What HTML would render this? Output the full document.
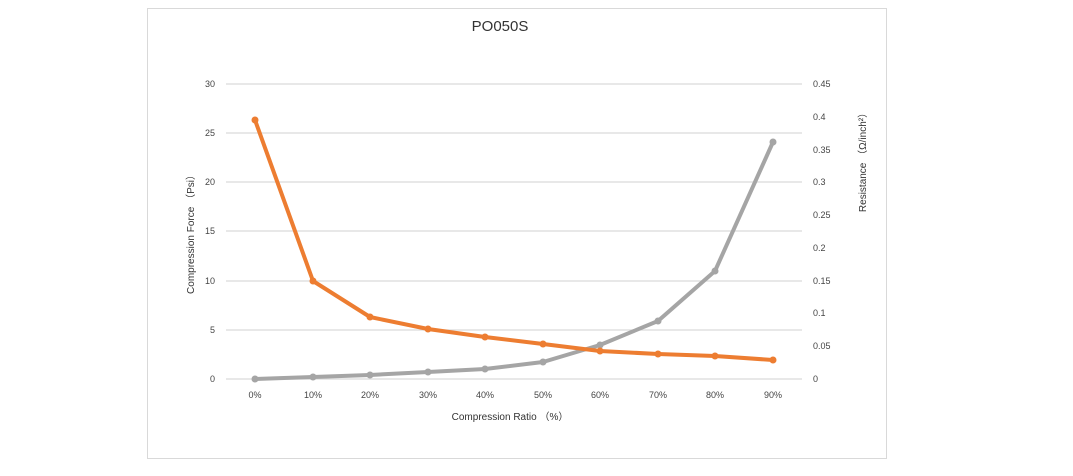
<!DOCTYPE html>
<html><head><meta charset="utf-8"><style>
body{margin:0;background:#fff;}
svg{display:block;font-family:"Liberation Sans",sans-serif;}
</style></head><body>
<svg width="1073" height="476" viewBox="0 0 1073 476">
<rect x="147.5" y="8.5" width="739" height="450" fill="#fff" stroke="#d9d9d9"/>
<text x="500" y="31" font-size="15" text-anchor="middle" fill="#333">PO050S</text>
<g stroke="#d9d9d9" stroke-width="1.3">
<line x1="226" x2="802" y1="84" y2="84"/>
<line x1="226" x2="802" y1="133" y2="133"/>
<line x1="226" x2="802" y1="182" y2="182"/>
<line x1="226" x2="802" y1="231" y2="231"/>
<line x1="226" x2="802" y1="281" y2="281"/>
<line x1="226" x2="802" y1="330" y2="330"/>
<line x1="226" x2="802" y1="379" y2="379"/>
</g>
<g font-size="9" fill="#444" text-anchor="end">
<text x="215" y="87">30</text><text x="215" y="136">25</text><text x="215" y="185">20</text>
<text x="215" y="234">15</text><text x="215" y="284">10</text><text x="215" y="333">5</text><text x="215" y="382">0</text>
</g>
<g font-size="9" fill="#444">
<text x="813" y="87">0.45</text><text x="813" y="120">0.4</text><text x="813" y="153">0.35</text>
<text x="813" y="185">0.3</text><text x="813" y="218">0.25</text><text x="813" y="251">0.2</text>
<text x="813" y="284">0.15</text><text x="813" y="316">0.1</text><text x="813" y="349">0.05</text><text x="813" y="382">0</text>
</g>
<g font-size="9" fill="#444" text-anchor="middle">
<text x="255" y="398">0%</text><text x="313" y="398">10%</text><text x="370" y="398">20%</text>
<text x="428" y="398">30%</text><text x="485" y="398">40%</text><text x="543" y="398">50%</text>
<text x="600" y="398">60%</text><text x="658" y="398">70%</text><text x="715" y="398">80%</text><text x="773" y="398">90%</text>
</g>
<text x="510" y="420" font-size="10" fill="#333" text-anchor="middle">Compression Ratio （%）</text>
<text transform="translate(194,232) rotate(-90)" font-size="10" fill="#333" text-anchor="middle">Compression Force （Psi）</text>
<text transform="translate(866,160) rotate(-90)" font-size="10" fill="#333" text-anchor="middle">Resistance （Ω/inch²）</text>
<polyline fill="none" stroke="#a5a5a5" stroke-width="4" stroke-linejoin="round" points="255,379 313,377 370,375 428,372 485,369 543,362 600,345 658,321 715,271 773,142"/>
<g fill="#a5a5a5"><circle cx="255" cy="379" r="3.5"/><circle cx="313" cy="377" r="3.5"/><circle cx="370" cy="375" r="3.5"/><circle cx="428" cy="372" r="3.5"/><circle cx="485" cy="369" r="3.5"/><circle cx="543" cy="362" r="3.5"/><circle cx="600" cy="345" r="3.5"/><circle cx="658" cy="321" r="3.5"/><circle cx="715" cy="271" r="3.5"/><circle cx="773" cy="142" r="3.5"/></g>
<polyline fill="none" stroke="#ed7d31" stroke-width="4" stroke-linejoin="round" points="255,120 313,281 370,317 428,329 485,337 543,344 600,351 658,354 715,356 773,360"/>
<g fill="#ed7d31"><circle cx="255" cy="120" r="3.5"/><circle cx="313" cy="281" r="3.5"/><circle cx="370" cy="317" r="3.5"/><circle cx="428" cy="329" r="3.5"/><circle cx="485" cy="337" r="3.5"/><circle cx="543" cy="344" r="3.5"/><circle cx="600" cy="351" r="3.5"/><circle cx="658" cy="354" r="3.5"/><circle cx="715" cy="356" r="3.5"/><circle cx="773" cy="360" r="3.5"/></g>
</svg>
</body></html>
